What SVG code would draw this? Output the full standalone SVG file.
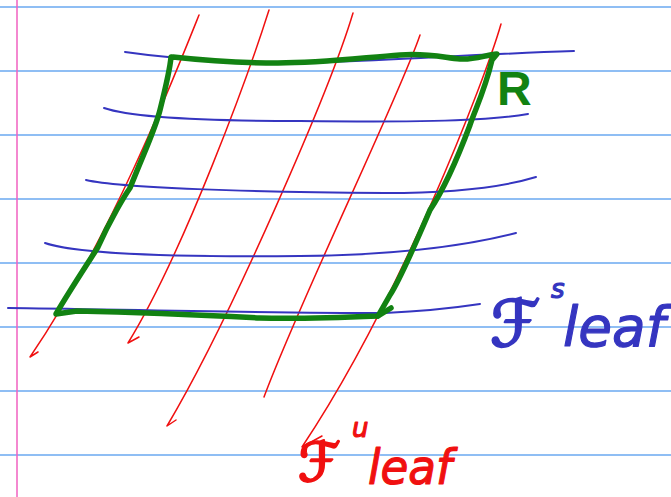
<svg xmlns="http://www.w3.org/2000/svg" width="671" height="497" viewBox="0 0 671 497">
<style>
.rule{stroke:#6aa8f0;stroke-width:1.4;fill:none}
.margin{stroke:#f060c0;stroke-width:1.5;fill:none}
.sleaf{stroke:#3535c0;stroke-width:2;fill:none;stroke-linecap:round}
.uleaf{stroke:#f01010;stroke-width:1.5;fill:none;stroke-linecap:round;stroke-linejoin:round}
.rect{stroke:#128212;stroke-width:5.5;fill:none;stroke-linecap:round;stroke-linejoin:round}
.lbl{font-family:"DejaVu Sans","Liberation Sans",sans-serif;font-style:italic;stroke-width:1.2;stroke-linejoin:round}
.big{stroke-width:2.2}
</style>
<rect width="671" height="497" fill="#ffffff"/>
<g id="ruling">
<line class="rule" x1="0" y1="7" x2="671" y2="7"/>
<line class="rule" x1="0" y1="71" x2="671" y2="71"/>
<line class="rule" x1="0" y1="135" x2="671" y2="135"/>
<line class="rule" x1="0" y1="199" x2="671" y2="199"/>
<line class="rule" x1="0" y1="263" x2="671" y2="263"/>
<line class="rule" x1="0" y1="327" x2="671" y2="327"/>
<line class="rule" x1="0" y1="391" x2="671" y2="391"/>
<line class="rule" x1="0" y1="455" x2="671" y2="455"/>
<line class="margin" x1="17" y1="0" x2="17" y2="497"/>
</g>
<g id="unstable-leaves">
<path class="uleaf" d="M199,15 C175,75 110,240 30,357 L38,352"/>
<path class="uleaf" d="M269,10 C250,70 185,250 128,343 L139,337"/>
<path class="uleaf" d="M353,13 C330,90 230,320 167,426 L176,420"/>
<path class="uleaf" d="M420,35 C400,95 300,300 264,397"/>
<path class="uleaf" d="M501,24 C485,80 400,300 302,447 L322,436"/>
</g>
<g id="stable-leaves">
<path class="sleaf" d="M125,52 C180,60 260,64 330,62 C400,60 480,54 574,51"/>
<path class="sleaf" d="M104,108 C130,117 200,121 300,121 C400,122 480,122 528,114"/>
<path class="sleaf" d="M86,180 C120,188 250,192 385,193 C450,193 500,188 536,177"/>
<path class="sleaf" d="M45,243 C80,255 200,257 300,256 C400,255 470,245 516,233"/>
<path class="sleaf" d="M8,308 C100,309 250,313 385,313 C430,311 460,307 480,304"/>
</g>
<g id="rectangle-R">
<path class="rect" d="M173,57 C200,60 240,63 278,63 C320,63 360,58 400,55 C430,53 445,58 460,59 C475,60 485,55 497,54 L492,60 C485,90 475,110 470,125 C455,165 440,195 430,210 C415,245 400,280 390,295 L378,316 C330,318 290,319 260,318 C200,315 120,312 77,311 L56,314 C70,290 90,260 98,247 C110,220 125,195 130,188 C145,150 155,130 160,110 C165,90 170,70 171,57"/>
<path class="rect" d="M378,316 L391,308"/>
<text x="497" y="105" font-family="Liberation Sans, sans-serif" font-weight="bold" font-size="48" fill="#128212">R</text>
</g>
<g id="label-stable" fill="#3535c0" stroke="#3535c0">
<text class="lbl big" x="490" y="346" font-size="64">ℱ</text>
<text class="lbl" x="551" y="298" font-size="26">s</text>
<text class="lbl" x="563" y="346" font-size="56" textLength="102" lengthAdjust="spacingAndGlyphs">leaf</text>
</g>
<g id="label-unstable" fill="#f01010" stroke="#f01010">
<text class="lbl big" x="298" y="481" font-size="54">ℱ</text>
<text class="lbl" x="352" y="437" font-size="26">u</text>
<text class="lbl" x="368" y="484" font-size="48" textLength="84" lengthAdjust="spacingAndGlyphs">leaf</text>
</g>
</svg>
